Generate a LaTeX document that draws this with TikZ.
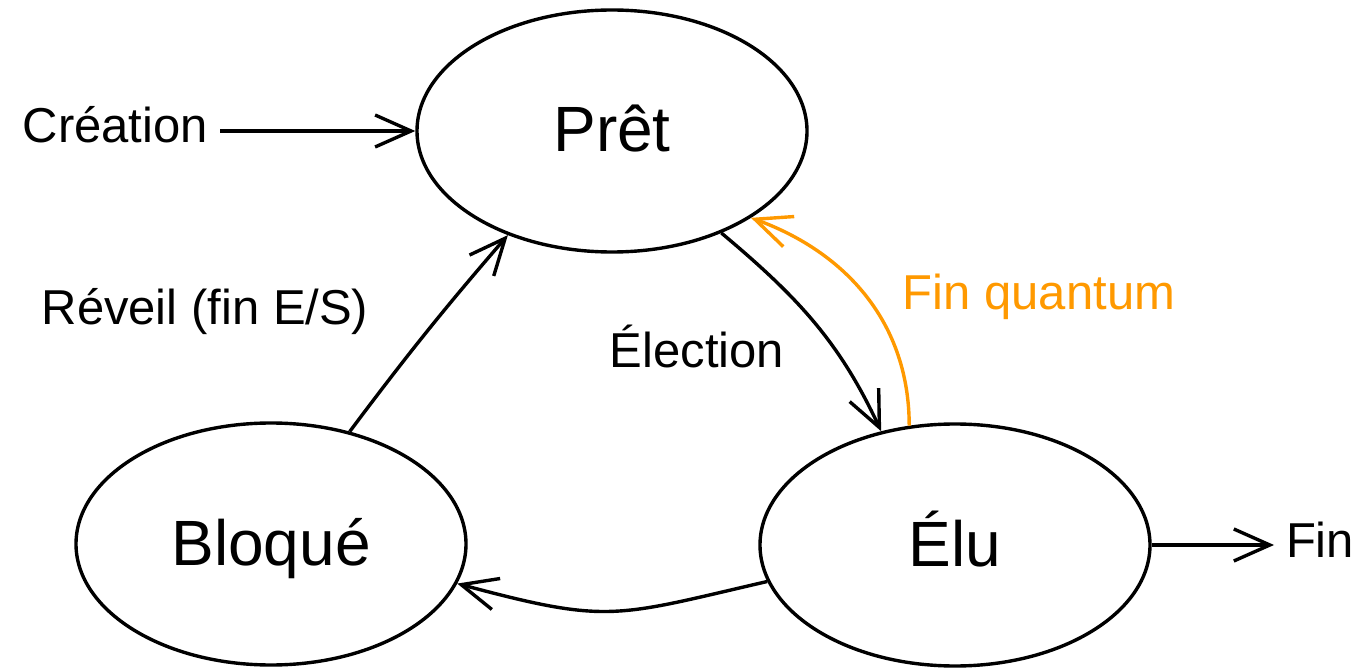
\documentclass[tikz,border=0pt]{standalone}
\usepackage{fontspec}
\setmainfont{Liberation Sans}
\usetikzlibrary{shapes.geometric,arrows.meta}
\definecolor{quantum}{HTML}{FF9900}

\begin{document}
\begin{tikzpicture}[x=1pt,y=1pt,
  state/.style={ellipse,draw,line width=3.4pt,minimum width=390pt,minimum height=242pt,
    inner sep=0pt,font=\fontsize{64}{77}\selectfont,text height=42pt,text depth=0pt},
  lbl/.style={font=\fontsize{49}{59}\selectfont,text height=36pt,text depth=12pt,
    inner xsep=12pt,inner ysep=0pt,outer sep=0pt},
  trans/.style={line width=3.4pt,-{Straight Barb[length=36pt,width=32pt]}}]
  \useasboundingbox (0,-668) rectangle (1361,0);

  % process states
  \node[state] (pret)   at (612,-131) {Prêt};
  \node[state] (bloque) at (271,-544) {Bloqué};
  \node[state] (elu)    at (955,-545) {Élu};

  % free labels
  \node[lbl,anchor=east] (creation) at (220,-131) {Création};
  \node[lbl,anchor=west] (fin)      at (1274,-545) {Fin};
  \node[lbl,anchor=base] (reveil)   at (205,-325) {Réveil (fin E/S)};
  \node[lbl,anchor=base] (election) at (697,-368) {Élection};
  \node[lbl,anchor=base,text=quantum] (quantum) at (1039,-310) {Fin quantum};

  % transitions
  \draw[trans] (creation.east) -- (pret.west);
  \draw[trans] (elu.east) -- (fin.west);
  \draw[trans] (bloque.55) to[bend left=2] (pret.225);
  \draw[trans] (pret.-43) to[out=-40,in=115] (elu.123);
  \draw[trans,quantum] (elu.111) to[out=90,in=-20] (pret.-32);
  \draw[trans] (elu.191) to[out=193,in=-15,looseness=1.3] (bloque.-12);
\end{tikzpicture}
\end{document}
